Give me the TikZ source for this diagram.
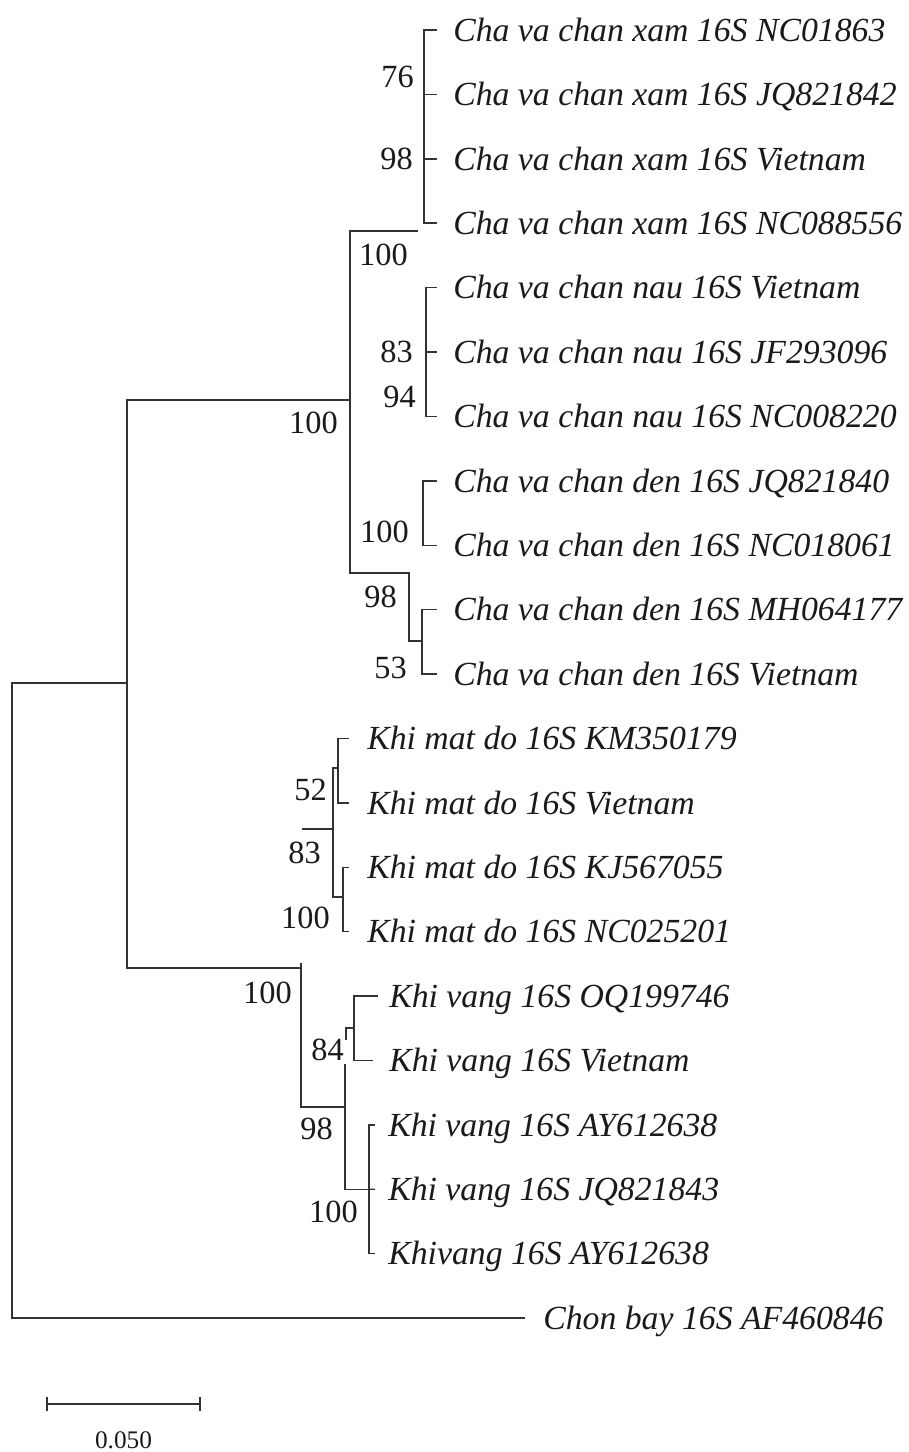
\documentclass[tikz,border=0pt]{standalone}
\usepackage{xcolor}
\usepackage{fontspec}
\setmainfont{Liberation Serif}
\usepackage{tikz}
\usetikzlibrary{positioning,calc}
\definecolor{branch}{HTML}{333333}
\definecolor{ink}{HTML}{1A1A1A}

\begin{document}
\begin{tikzpicture}[x=0.025cm,y=-0.025cm,
    edge/.style={draw=branch,line width=1pt},
    taxon/.style={anchor=base west,inner sep=0pt,yshift=-8pt,text=ink,font=\fontsize{24}{28}\selectfont\itshape},
    boot/.style={anchor=base east,inner sep=0pt,yshift=-7.6pt,text=ink,font=\fontsize{23}{27}\selectfont}]
  \useasboundingbox[fill=white] (0,0) rectangle (908,1452);

  % leaf tips, one row every 64.4px
  \foreach \i/\tx in {1/437,2/437,3/437,4/437,5/437,6/437,7/437,8/437,9/437,10/437,11/437,
      12/349,13/349,14/349,15/349,16/378,17/373,18/375,19/375,20/375,21/525}
    \coordinate (tip\i) at (\tx,{30+(\i-1)*64.4});

  % taxa
  \node[taxon] (leaf1) at (453,30) {Cha va chan xam 16S NC01863};
  \node[taxon] (leaf2) at (453,94.4) {Cha va chan xam 16S JQ821842};
  \node[taxon] (leaf3) at (453,158.8) {Cha va chan xam 16S Vietnam};
  \node[taxon] (leaf4) at (453,223.2) {Cha va chan xam 16S NC088556};
  \node[taxon] (leaf5) at (453,287.6) {Cha va chan nau 16S Vietnam};
  \node[taxon] (leaf6) at (453,352) {Cha va chan nau 16S JF293096};
  \node[taxon] (leaf7) at (453,416.4) {Cha va chan nau 16S NC008220};
  \node[taxon] (leaf8) at (453,480.8) {Cha va chan den 16S JQ821840};
  \node[taxon] (leaf9) at (453,545.2) {Cha va chan den 16S NC018061};
  \node[taxon] (leaf10) at (453,609.6) {Cha va chan den 16S MH064177};
  \node[taxon] (leaf11) at (453,674) {Cha va chan den 16S Vietnam};
  \node[taxon] (leaf12) at (367,738.4) {Khi mat do 16S KM350179};
  \node[taxon] (leaf13) at (367,802.8) {Khi mat do 16S Vietnam};
  \node[taxon] (leaf14) at (367,867.2) {Khi mat do 16S KJ567055};
  \node[taxon] (leaf15) at (367,931.6) {Khi mat do 16S NC025201};
  \node[taxon] (leaf16) at (389,996) {Khi vang 16S OQ199746};
  \node[taxon] (leaf17) at (389,1060.4) {Khi vang 16S Vietnam};
  \node[taxon] (leaf18) at (388,1124.8) {Khi vang 16S AY612638};
  \node[taxon] (leaf19) at (388,1189.2) {Khi vang 16S JQ821843};
  \node[taxon] (leaf20) at (388,1253.6) {Khivang 16S AY612638};
  \node[taxon] (leaf21) at (543,1318) {Chon bay 16S AF460846};

  % inner nodes
  \coordinate (root) at (12,683);
  \coordinate (ingroup) at (127,683);
  \coordinate (cha) at (127,400);
  \coordinate (khi) at (127,968);
  \coordinate (chaTop) at (350,231);
  \coordinate (chaMid) at (350,400);
  \coordinate (chaBot) at (350,573);
  \coordinate (xamnau) at (418,231);
  \coordinate (xam) at (424,30);
  \coordinate (nau) at (426,287.6);
  \coordinate (denA) at (423,480.8);
  \coordinate (denB) at (409,573);
  \coordinate (denC) at (422,641);
  \coordinate (matdo) at (302,829);
  \coordinate (matA) at (333,768);
  \coordinate (matB) at (338,738.4);
  \coordinate (matC) at (343,897);
  \coordinate (vang) at (301,968);
  \coordinate (vangA) at (345,1107);
  \coordinate (vangB) at (354,996);
  \coordinate (vangC) at (369,1189.2);

  % backbone
  \draw[edge] (ingroup) -- (root) |- (tip21);
  \draw[edge] (chaMid) -- (cha) -- (khi) -- (vang);
  \draw[edge] (xamnau) -- (chaTop) -- (chaBot) -- (denB) |- (denC);

  % Cha va chan
  \draw[edge] (tip1) -| (xam) |- (tip4);
  \draw[edge] (tip2 -| xam) -- (tip2);
  \draw[edge] (tip3 -| xam) -- (tip3);
  \draw[edge] (tip5) -| (nau) |- (tip7);
  \draw[edge] (tip6 -| nau) -- (tip6);
  \draw[edge] (tip8) -| (denA) |- (tip9);
  \draw[edge] (tip10) -| (denC) |- (tip11);

  % Khi mat do
  \draw[edge] (matdo) -- (matdo -| matA);
  \draw[edge] (matA -| matB) -- (matA) |- (matC);
  \draw[edge] (tip12) -| (matB) |- (tip13);
  \draw[edge] (tip14) -| (matC) |- (tip15);

  % Khi vang
  \draw[edge] (301,963) |- (vangA) -- (345,1064);
  \draw[edge] (vangA) |- (vangC);
  \draw[edge] (tip16) -| (vangB) |- (tip17);
  \draw[edge] (vangB |- 0,1028) -- (346,1028) -- (346,1040);
  \draw[edge] (tip18) -| (vangC) |- (tip20);
  \draw[edge] (vangC) -- (tip19);

  % bootstrap values
  \node[boot] (b1) at (414,77) {76};
  \node[boot] (b2) at (413,159) {98};
  \node[boot] (b3) at (408,255) {100};
  \node[boot] (b4) at (413,352) {83};
  \node[boot] (b5) at (416,397) {94};
  \node[boot] (b6) at (338,423) {100};
  \node[boot] (b7) at (409,532) {100};
  \node[boot] (b8) at (397,597) {98};
  \node[boot] (b9) at (407,668) {53};
  \node[boot] (b10) at (327,790) {52};
  \node[boot] (b11) at (321,853) {83};
  \node[boot] (b12) at (330,918) {100};
  \node[boot] (b13) at (292,993) {100};
  \node[boot] (b14) at (344,1050) {84};
  \node[boot] (b15) at (333,1129) {98};
  \node[boot] (b16) at (358,1212) {100};

  % scale bar
  \coordinate (barL) at (47,1404);
  \coordinate (barR) at (200,1404);
  \draw[branch,line width=2pt] (barL) -- (barR);
  \draw[branch,line width=2pt] ([yshift=-0.18cm]barL) -- ([yshift=0.18cm]barL);
  \draw[branch,line width=1.6pt] ([yshift=-0.18cm]barR) -- ([yshift=0.18cm]barR);
  \node[text=ink,font=\fontsize{18}{21}\selectfont,below=0.56cm of $(barL)!0.5!(barR)$] (scale) {0.050};
\end{tikzpicture}
\end{document}
